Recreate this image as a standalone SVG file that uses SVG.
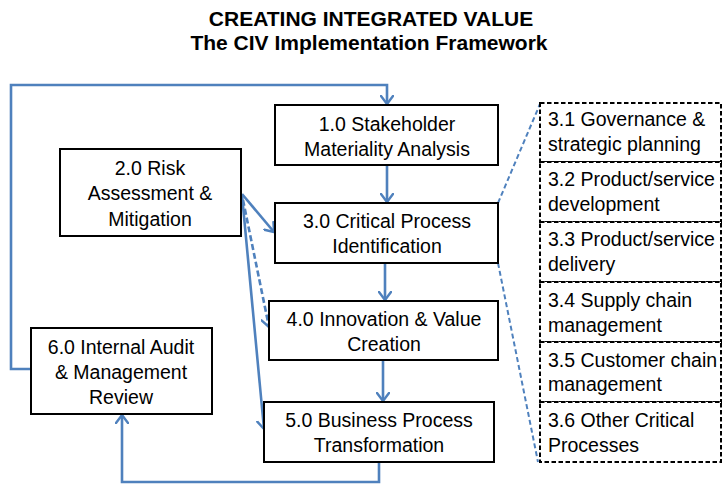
<svg xmlns="http://www.w3.org/2000/svg" width="723" height="484" viewBox="0 0 723 484">
<defs>
<marker id="arr" markerUnits="userSpaceOnUse" viewBox="0 0 10 14" refX="9" refY="7" markerWidth="10" markerHeight="14" orient="auto">
<path d="M1,1 L9,7 L1,13" fill="none" stroke="#4F81BD" stroke-width="2.4" stroke-linecap="round" stroke-linejoin="round"/>
</marker>
</defs>
<style>
.title{font-family:"Liberation Sans",Arial,sans-serif;font-weight:bold;font-size:21px;fill:#000;text-anchor:middle}
.box{fill:#fff;stroke:#000;stroke-width:2}
.dbox{fill:#fff;stroke:#000;stroke-width:2;stroke-dasharray:4.5,2.5}
.t{font-family:"Liberation Sans",Arial,sans-serif;font-size:19.5px;fill:#000;text-anchor:middle}
.tl{font-family:"Liberation Sans",Arial,sans-serif;font-size:19.5px;fill:#000}
.c{fill:none;stroke:#4F81BD;stroke-width:2.6}
.cd{fill:none;stroke:#4F81BD;stroke-width:2.6;stroke-dasharray:6,3}
.cl{fill:none;stroke:#4F81BD;stroke-width:2;stroke-dasharray:5,3}
</style>
<rect width="723" height="484" fill="#fff"/>
<text class="title" x="371" y="26">CREATING INTEGRATED VALUE</text>
<text class="title" x="369" y="50">The CIV Implementation Framework</text>

<g id="connectors">
<polyline class="c" points="31,369 11,369 11,85 387,85 387,104" marker-end="url(#arr)"/>
<line class="c" x1="387" y1="165" x2="387" y2="202" marker-end="url(#arr)"/>
<line class="c" x1="385" y1="263" x2="385" y2="300" marker-end="url(#arr)"/>
<line class="c" x1="383" y1="360" x2="383" y2="401" marker-end="url(#arr)"/>
<polyline class="c" points="379,462 379,482 122,482 122,415" marker-end="url(#arr)"/>
<line class="c" x1="242" y1="194" x2="274" y2="232" marker-end="url(#arr)"/>
<line class="c" x1="242" y1="195" x2="264" y2="429" marker-end="url(#arr)"/>
<line class="cd" x1="243" y1="200" x2="269" y2="327" marker-end="url(#arr)"/>
<line class="cl" x1="498" y1="203" x2="540" y2="104"/>
<line class="cl" x1="498" y1="263" x2="538" y2="462"/>
</g>

<g id="n1">
<rect class="box" x="275" y="105" width="223" height="60"/>
<text class="t" x="387" y="131">1.0 Stakeholder</text>
<text class="t" x="387" y="156">Materiality Analysis</text>
</g>
<g id="n2">
<rect class="box" x="60" y="149" width="181" height="87"/>
<text class="t" x="150" y="175">2.0 Risk</text>
<text class="t" x="150" y="200">Assessment &amp;</text>
<text class="t" x="150" y="226">Mitigation</text>
</g>
<g id="n3">
<rect class="box" x="275" y="203" width="223" height="60"/>
<text class="t" x="387" y="228">3.0 Critical Process</text>
<text class="t" x="387" y="253">Identification</text>
</g>
<g id="n4">
<rect class="box" x="269" y="301" width="229" height="59"/>
<text class="t" x="384" y="326">4.0 Innovation &amp; Value</text>
<text class="t" x="384" y="351">Creation</text>
</g>
<g id="n5">
<rect class="box" x="264" y="402" width="230" height="60"/>
<text class="t" x="379" y="427">5.0 Business Process</text>
<text class="t" x="379" y="452">Transformation</text>
</g>
<g id="n6">
<rect class="box" x="31" y="328" width="181" height="86"/>
<text class="t" x="121" y="354">6.0 Internal Audit</text>
<text class="t" x="121" y="379">&amp; Management</text>
<text class="t" x="121" y="404">Review</text>
</g>

<g id="n31">
<rect class="dbox" x="540" y="103" width="181" height="59"/>
<text class="tl" x="548" y="126">3.1 Governance &amp;</text>
<text class="tl" x="548" y="151">strategic planning</text>
</g>
<g id="n32">
<rect class="dbox" x="540" y="162" width="181" height="60"/>
<text class="tl" x="548" y="186">3.2 Product/service</text>
<text class="tl" x="548" y="211">development</text>
</g>
<g id="n33">
<rect class="dbox" x="540" y="222" width="181" height="60"/>
<text class="tl" x="548" y="246">3.3 Product/service</text>
<text class="tl" x="548" y="271">delivery</text>
</g>
<g id="n34">
<rect class="dbox" x="540" y="282" width="181" height="60"/>
<text class="tl" x="548" y="307">3.4 Supply chain</text>
<text class="tl" x="548" y="332">management</text>
</g>
<g id="n35">
<rect class="dbox" x="540" y="342" width="181" height="60"/>
<text class="tl" x="548" y="367">3.5 Customer chain</text>
<text class="tl" x="548" y="391">management</text>
</g>
<g id="n36">
<rect class="dbox" x="540" y="402" width="181" height="60"/>
<text class="tl" x="548" y="427">3.6 Other Critical</text>
<text class="tl" x="548" y="452">Processes</text>
</g>
</svg>
